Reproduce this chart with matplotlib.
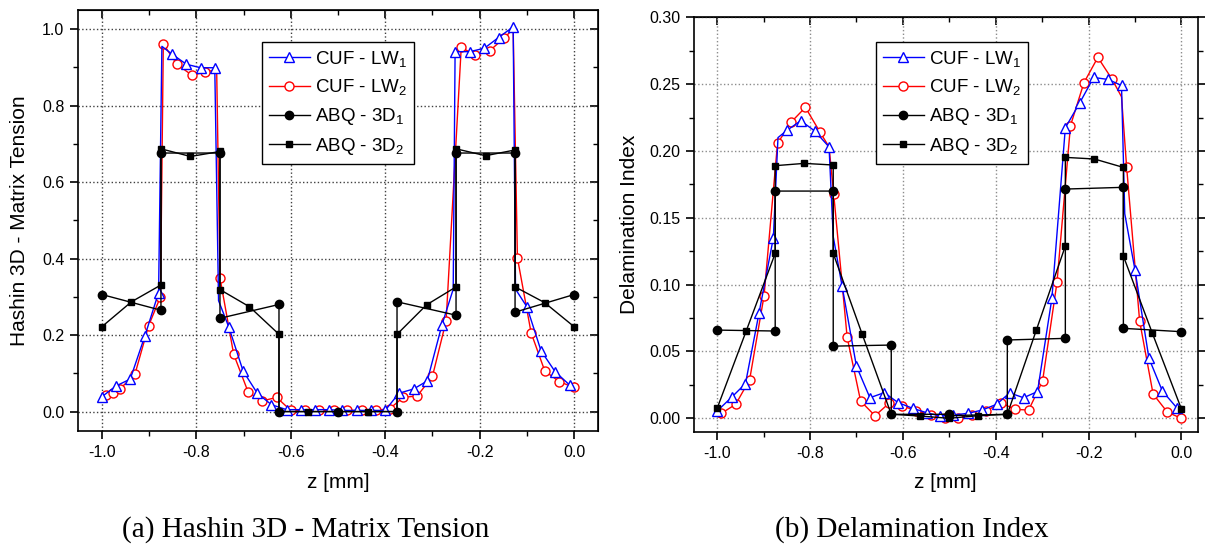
import matplotlib
matplotlib.use("Agg")
import matplotlib.pyplot as plt
from matplotlib.ticker import MultipleLocator, FormatStrFormatter

plt.rcParams['font.family'] = ['Liberation Sans', 'DejaVu Sans']
plt.rcParams['mathtext.default'] = 'regular'
plt.rcParams['axes.unicode_minus'] = False

labels = ['CUF - LW$_1$', 'CUF - LW$_2$', 'ABQ - 3D$_1$', 'ABQ - 3D$_2$']

# (a) Hashin 3D - Matrix Tension
z_a_lw1 = [-1.0, -0.97, -0.94, -0.909, -0.88, -0.873, -0.851, -0.821, -0.791, -0.761, -0.753,
           -0.731, -0.701, -0.671, -0.641, -0.609, -0.579, -0.549, -0.52, -0.492, -0.46, -0.431,
           -0.40, -0.371, -0.340, -0.311, -0.28, -0.256, -0.252, -0.221, -0.190, -0.160, -0.129,
           -0.124, -0.100, -0.070, -0.040, -0.009]
v_a_lw1 = [0.039, 0.067, 0.085, 0.198, 0.311, 0.955, 0.934, 0.908, 0.899, 0.899, 0.29,
           0.22, 0.106, 0.048, 0.018, 0.005, 0.005, 0.005, 0.005, 0.003, 0.003, 0.003,
           0.003, 0.048, 0.059, 0.080, 0.226, 0.32, 0.941, 0.941, 0.950, 0.978, 1.006,
           0.32, 0.274, 0.159, 0.104, 0.069]
hide_a_lw1 = [5, 10, 27, 33]

z_a_lw2 = [-0.992, -0.977, -0.961, -0.930, -0.901, -0.876, -0.870, -0.841, -0.810, -0.781, -0.757,
           -0.750, -0.721, -0.690, -0.660, -0.630, -0.600, -0.570, -0.540, -0.509, -0.481, -0.450,
           -0.420, -0.390, -0.362, -0.332, -0.300, -0.271, -0.239, -0.209, -0.179, -0.149, -0.129,
           -0.120, -0.091, -0.062, -0.031, 0.0]
v_a_lw2 = [0.043, 0.048, 0.060, 0.098, 0.225, 0.30, 0.961, 0.908, 0.880, 0.887, 0.895,
           0.35, 0.150, 0.050, 0.028, 0.037, 0.003, 0.003, 0.003, 0.003, 0.003, 0.003,
           0.003, 0.008, 0.037, 0.041, 0.092, 0.237, 0.952, 0.932, 0.943, 0.976, 1.0,
           0.402, 0.206, 0.106, 0.078, 0.063]
hide_a_lw2 = [10, 32]

z_a_3d1 = [-1.0, -0.875, -0.875, -0.75, -0.75, -0.625, -0.625, -0.5, -0.375, -0.375, -0.25,
           -0.25, -0.125, -0.125, 0.0]
v_a_3d1 = [0.306, 0.265, 0.676, 0.676, 0.244, 0.280, 0.0, 0.0, 0.0, 0.287, 0.252,
           0.676, 0.676, 0.260, 0.306]

z_a_3d2 = [-1.0, -0.9375, -0.875, -0.875, -0.8125, -0.75, -0.75, -0.6875, -0.625, -0.625, -0.5625,
           -0.5, -0.4375, -0.375, -0.375, -0.3125, -0.25, -0.25, -0.1875, -0.125, -0.125, -0.0625, 0.0]
v_a_3d2 = [0.222, 0.287, 0.331, 0.687, 0.667, 0.680, 0.319, 0.274, 0.202, 0.0, 0.0,
           0.0, 0.0, 0.0, 0.202, 0.279, 0.326, 0.687, 0.669, 0.684, 0.326, 0.285, 0.222]

# (b) Delamination Index
z_b_lw1 = [-1.0, -0.969, -0.939, -0.910, -0.879, -0.869, -0.849, -0.820, -0.790, -0.759, -0.750,
           -0.731, -0.700, -0.671, -0.640, -0.610, -0.579, -0.549, -0.520, -0.492, -0.460, -0.429,
           -0.398, -0.370, -0.340, -0.310, -0.279, -0.250, -0.219, -0.189, -0.158, -0.129, -0.122,
           -0.100, -0.070, -0.041, -0.009]
v_b_lw1 = [0.0055, 0.0157, 0.026, 0.0785, 0.135, 0.210, 0.2156, 0.2226, 0.215, 0.203, 0.136,
           0.099, 0.039, 0.0154, 0.0192, 0.0117, 0.0075, 0.0042, 0.0017, 0.0025, 0.0037, 0.0062,
           0.0105, 0.019, 0.0154, 0.020, 0.0897, 0.2174, 0.236, 0.255, 0.2535, 0.249, 0.153,
           0.111, 0.045, 0.0204, 0.0075]
hide_b_lw1 = [5, 10, 32]

z_b_lw2 = [-0.991, -0.960, -0.930, -0.899, -0.870, -0.840, -0.810, -0.779, -0.759, -0.749, -0.720,
           -0.691, -0.660, -0.630, -0.601, -0.571, -0.540, -0.510, -0.481, -0.450, -0.420, -0.389,
           -0.359, -0.329, -0.299, -0.268, -0.239, -0.210, -0.180, -0.149, -0.129, -0.118, -0.090,
           -0.061, -0.030, 0.0]
v_b_lw2 = [0.0037, 0.0105, 0.029, 0.0917, 0.2057, 0.2218, 0.2326, 0.2144, 0.203, 0.1678, 0.0606,
           0.0129, 0.0019, 0.0112, 0.0092, 0.0057, 0.0025, 0.0005, 0.0005, 0.0025, 0.0055, 0.0117,
           0.0067, 0.0062, 0.028, 0.1017, 0.2189, 0.251, 0.270, 0.2535, 0.2405, 0.188, 0.0728,
           0.0182, 0.0045, 0.0]
hide_b_lw2 = [8, 30]

z_b_3d1 = [-1.0, -0.875, -0.875, -0.75, -0.75, -0.625, -0.625, -0.5, -0.5, -0.375, -0.375,
           -0.25, -0.25, -0.125, -0.125, 0.0]
v_b_3d1 = [0.066, 0.0653, 0.170, 0.170, 0.054, 0.0548, 0.003, 0.003, 0.002, 0.003, 0.0586,
           0.0598, 0.1715, 0.1728, 0.0673, 0.0648]

z_b_3d2 = [-1.0, -0.9375, -0.875, -0.875, -0.8125, -0.75, -0.75, -0.6875, -0.625, -0.5625, -0.5,
           -0.4375, -0.375, -0.3125, -0.25, -0.25, -0.1875, -0.125, -0.125, -0.0625, 0.0]
v_b_3d2 = [0.0075, 0.0653, 0.1234, 0.189, 0.1907, 0.1895, 0.1234, 0.0628, 0.003, 0.0017, 0.0,
           0.002, 0.003, 0.066, 0.1289, 0.1952, 0.194, 0.1877, 0.1214, 0.0636, 0.007]


def keep(n, hide):
    return [i for i in range(n) if i not in hide]


def draw(ax, z1, v1, h1, z2, v2, h2, z3, v3, z4, v4):
    l2, = ax.plot(z2, v2, color='red', lw=1, marker='o', ms=6.5, mfc='white', mec='red',
                  mew=1, markevery=keep(len(z2), h2), zorder=3)
    l1, = ax.plot(z1, v1, color='blue', lw=1, marker='^', ms=7.5, mfc='white', mec='blue',
                  mew=1, markevery=keep(len(z1), h1), zorder=4)
    l3, = ax.plot(z3, v3, color='black', lw=1, marker='o', ms=6, zorder=5)
    l4, = ax.plot(z4, v4, color='black', lw=1, marker='s', ms=5, zorder=5)
    return [l1, l2, l3, l4]


def style(ax, right_in, gridcol):
    ax.xaxis.set_major_locator(MultipleLocator(0.2))
    ax.xaxis.set_minor_locator(MultipleLocator(0.1))
    ax.xaxis.set_major_formatter(FormatStrFormatter('%.1f'))
    ax.tick_params(which='major', direction='out', length=6, width=1.2, labelsize=11.5, pad=4)
    ax.tick_params(which='minor', direction='out', length=3.5, width=1.0)
    for s in ax.spines.values():
        s.set_linewidth(1.2)
    ax.grid(True, which='major', linestyle=':', color=gridcol, lw=1)
    top = ax.secondary_xaxis('top')
    top.xaxis.set_major_locator(MultipleLocator(0.2))
    top.xaxis.set_minor_locator(MultipleLocator(0.1))
    top.tick_params(which='major', direction='in', length=6, width=1.2, labeltop=False)
    top.tick_params(which='minor', direction='in', length=3.5, width=1.0)
    if right_in:
        rt = ax.secondary_yaxis('right')
        rt.yaxis.set_major_locator(ax.yaxis.get_major_locator())
        rt.yaxis.set_minor_locator(ax.yaxis.get_minor_locator())
        rt.tick_params(which='major', direction='in', length=6, width=1.2, labelright=False)
        rt.tick_params(which='minor', direction='in', length=3.5, width=1.0)
    else:
        ax.tick_params(axis='y', which='both', right=True)


def add_legend(handles, x_px):
    leg = fig.legend(handles, labels, loc='upper left', bbox_to_anchor=(x_px / 1205, 1 - 42 / 549),
                     fontsize=13.5, frameon=True, fancybox=False, edgecolor='black', framealpha=1,
                     borderaxespad=0, handlelength=2.2, labelspacing=0.47, borderpad=0.35,
                     handletextpad=0.3)
    leg.get_frame().set_linewidth(1)


fig = plt.figure(figsize=(12.05, 5.49), dpi=100)

ax1 = fig.add_axes([0.065, 0.2155, 0.431, 0.7663])
h = draw(ax1, z_a_lw1, v_a_lw1, hide_a_lw1, z_a_lw2, v_a_lw2, hide_a_lw2,
         z_a_3d1, v_a_3d1, z_a_3d2, v_a_3d2)
ax1.set_xlim(-1.05, 0.05)
ax1.set_ylim(-0.05, 1.05)
ax1.yaxis.set_major_locator(MultipleLocator(0.2))
ax1.yaxis.set_minor_locator(MultipleLocator(0.1))
ax1.yaxis.set_major_formatter(FormatStrFormatter('%.1f'))
style(ax1, True, '0.25')
ax1.set_xlabel('z [mm]', fontsize=15)
ax1.set_ylabel('Hashin 3D - Matrix Tension', fontsize=15)
ax1.xaxis.set_label_coords(0.5, -0.1)
ax1.yaxis.set_label_coords(-0.095, 0.5)
add_legend(h, 262)

ax2 = fig.add_axes([0.5759, 0.2137, 0.418, 0.7548])
h = draw(ax2, z_b_lw1, v_b_lw1, hide_b_lw1, z_b_lw2, v_b_lw2, hide_b_lw2,
         z_b_3d1, v_b_3d1, z_b_3d2, v_b_3d2)
ax2.set_xlim(-1.05, 0.035)
ax2.set_ylim(-0.01, 0.30)
ax2.yaxis.set_major_locator(MultipleLocator(0.05))
ax2.yaxis.set_minor_locator(MultipleLocator(0.025))
ax2.yaxis.set_major_formatter(FormatStrFormatter('%.2f'))
style(ax2, False, '0.55')
ax2.set_xlabel('z [mm]', fontsize=15)
ax2.set_ylabel('Delamination Index', fontsize=15)
ax2.xaxis.set_label_coords(0.5, -0.1)
ax2.yaxis.set_label_coords(-0.11, 0.5)
add_legend(h, 876)

fig.text(305.5 / 1205, 1 - 530 / 549, '(a) Hashin 3D - Matrix Tension', ha='center', va='center',
         family='Liberation Serif', fontsize=21)
fig.text(912 / 1205, 1 - 530 / 549, '(b) Delamination Index', ha='center', va='center',
         family='Liberation Serif', fontsize=21)

fig.savefig('out.png', dpi=100)
